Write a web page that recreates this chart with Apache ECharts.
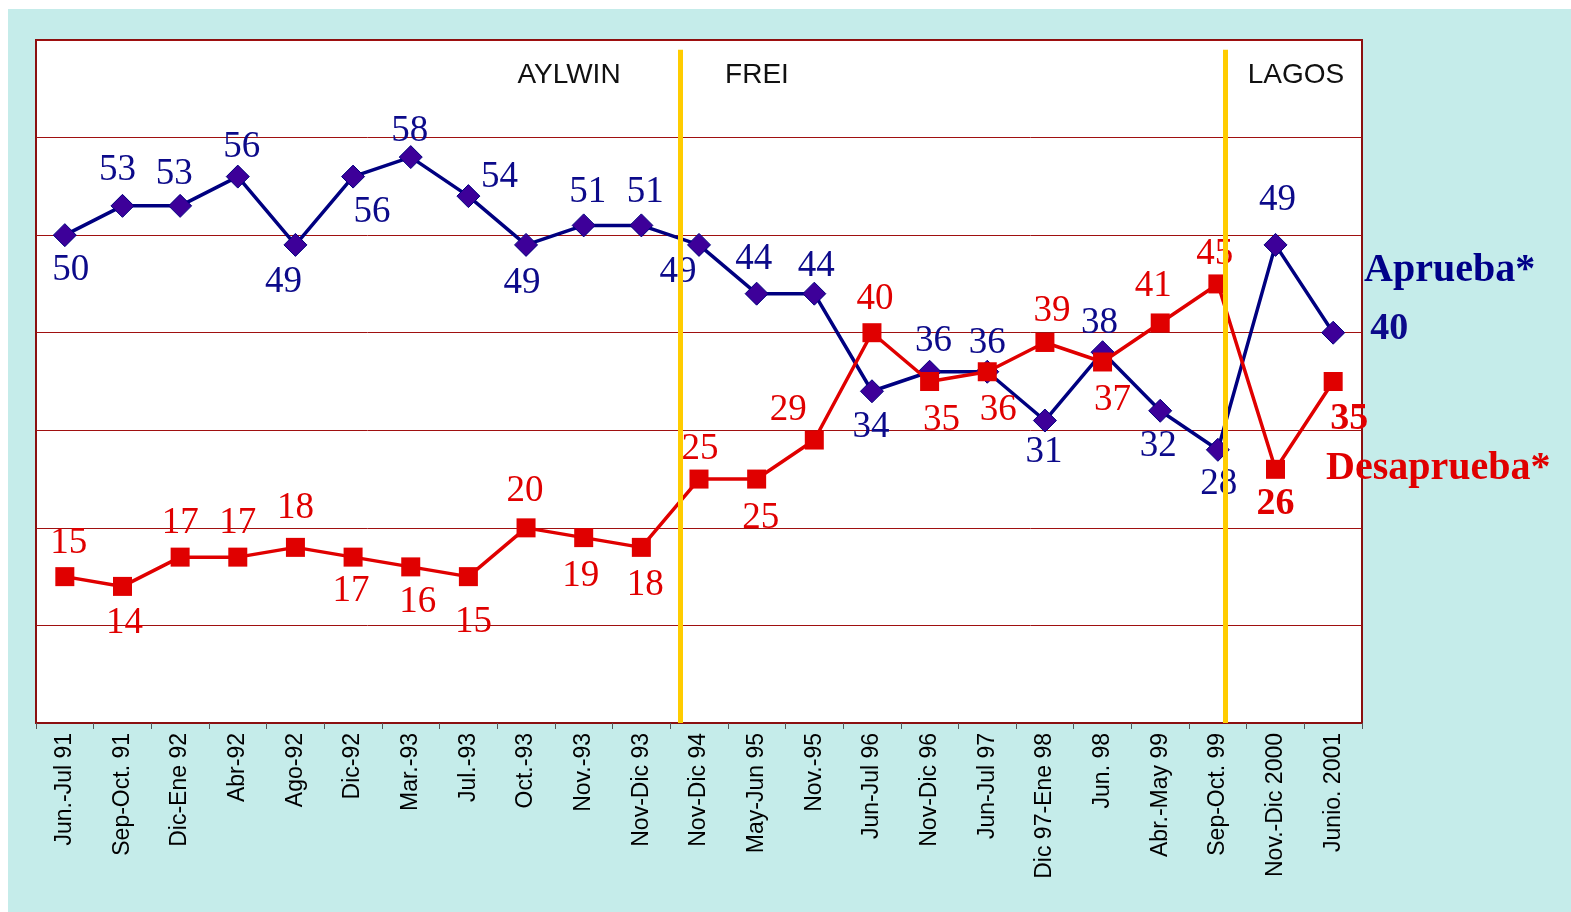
<!DOCTYPE html>
<html>
<head>
<meta charset="utf-8">
<script src="https://cdn.jsdelivr.net/npm/echarts@6/dist/echarts.min.js"></script>
<style>
  html, body { margin: 0; padding: 0; background: #ffffff; }
  #chart { position: absolute; left: 8px; top: 9px; width: 1563px; height: 903px; background: #c5ecea; }
</style>
</head>
<body>
<div id="chart"></div>
<script>
// periodos de la encuesta
const periods = ['Jun.-Jul 91', 'Sep-Oct. 91', 'Dic-Ene 92', 'Abr-92', 'Ago-92', 'Dic-92', 'Mar.-93', 'Jul.-93',
  'Oct.-93', 'Nov.-93', 'Nov-Dic 93', 'Nov-Dic 94', 'May-Jun 95', 'Nov.-95', 'Jun-Jul 96', 'Nov-Dic 96',
  'Jun-Jul 97', 'Dic 97-Ene 98', 'Jun. 98', 'Abr.-May 99', 'Sep-Oct. 99', 'Nov.-Dic 2000', 'Junio. 2001']

const aprueba = [50, 53, 53, 56, 49, 56, 58, 54, 49, 51, 51, 49, 44, 44, 34, 36, 36, 31, 38, 32, 28, 49, 40]
const desaprueba = [15, 14, 17, 17, 18, 17, 16, 15, 20, 19, 18, 25, 25, 29, 40, 35, 36, 39, 37, 41, 45, 26, 35]

// cambios de gobierno (en indice de periodo)
const termBoundaries = [10.67, 20.12]

// posicion de las etiquetas: [posicion, dx, dy]
const aprLabelPos = [
  ['bottom', 6, 0], ['top', -5, 0], ['top', -6, 4], ['top', 4, 6], ['bottom', -12, 2], ['bottom', 19, 0],
  ['top', -1, 10], ['top', 31, 17], ['bottom', -4, 3], ['top', 4, 2], ['top', 4, 2], ['bottom', -21, -8],
  ['top', -3, 1], ['top', 2, 8], ['bottom', -1, 1], ['top', 4, 5], ['top', 0, 7], ['bottom', -1, -4],
  ['top', -3, 7], ['bottom', -2, 0], ['bottom', 1, -1], ['top', 2, -9], ['right', 20, -4]
]
const desLabelPos = [
  ['top', 4, 0], ['bottom', 2, 4], ['top', 0, -1], ['top', 0, -1], ['top', 0, -6], ['bottom', -2, 1],
  ['bottom', 7, 2], ['bottom', 5, 13], ['top', -1, -4], ['bottom', -3, 6], ['bottom', 4, 5], ['top', 1, 3],
  ['bottom', 4, 6], ['top', -26, 3], ['top', 3, 0], ['bottom', 12, 6], ['bottom', 11, 6], ['top', 7, 2],
  ['bottom', 10, 5], ['top', -7, -4], ['top', -3, 3], ['bottom', 0, 1], ['bottom', 16, 4]
]

const serif = "'Liberation Serif', 'Times New Roman', serif"
const sans = "'Liberation Sans', Arial, sans-serif"

function buildData (values, pos, color) {
  return values.map((v, i) => {
    const last = i === values.length - 1 || (color === '#e00000' && i === values.length - 2)
    return {
      value: v,
      label: {
        show: true,
        position: pos[i][0],
        distance: 5,
        offset: [pos[i][1], pos[i][2]],
        color: color,
        fontFamily: serif,
        fontSize: last ? 38 : 37,
        fontWeight: last ? 'bold' : 'normal'
      }
    }
  })
}

const myChart = echarts.init(document.getElementById('chart'))

const option = {
  animation: false,
  grid: {
    left: 28,
    top: 31,
    width: 1326,
    height: 683,
    show: true,
    backgroundColor: '#ffffff',
    borderColor: '#8b1010',
    borderWidth: 2
  },
  xAxis: [
    {
      type: 'category',
      data: periods,
      boundaryGap: true,
      axisLine: { show: true, lineStyle: { color: '#8b1010', width: 2 } },
      axisTick: { show: true, length: 6, lineStyle: { color: '#555555' } },
      axisLabel: {
        interval: 0,
        rotate: 90,
        margin: 10,
        color: '#000000',
        fontFamily: sans,
        fontSize: 23
      },
      splitLine: { show: false }
    },
    {
      type: 'value',
      min: -0.5,
      max: 22.5,
      show: false
    }
  ],
  yAxis: {
    type: 'value',
    min: 0,
    max: 70,
    interval: 10,
    axisLine: { show: false },
    axisTick: { show: false },
    axisLabel: { show: false },
    splitLine: { show: true, lineStyle: { color: '#a01010', width: 1 } }
  },
  series: [
    {
      name: 'Aprueba',
      type: 'line',
      data: buildData(aprueba, aprLabelPos, '#0c0a8a'),
      symbol: 'diamond',
      symbolSize: 23,
      lineStyle: { color: '#000080', width: 3.5 },
      itemStyle: { color: '#3d0099', borderColor: '#000080', borderWidth: 1 },
      z: 3
    },
    {
      name: 'Desaprueba',
      type: 'line',
      data: buildData(desaprueba, desLabelPos, '#e00000'),
      symbol: 'rect',
      symbolSize: 19,
      lineStyle: { color: '#e00000', width: 3.5 },
      itemStyle: { color: '#e00000' },
      z: 4
    },
    {
      name: 'gobiernos',
      type: 'line',
      xAxisIndex: 1,
      data: [],
      z: 5,
      markLine: {
        silent: true,
        symbol: 'none',
        label: { show: false },
        lineStyle: { color: '#ffcc00', width: 5, type: 'solid' },
        data: termBoundaries.map(b => [{ coord: [b, 0] }, { coord: [b, 69] }])
      }
    }
  ],
  graphic: [
    { type: 'text', x: 561, y: 66, style: { text: 'AYLWIN', font: '28px ' + sans, fill: '#111111', textAlign: 'center', textVerticalAlign: 'middle' } },
    { type: 'text', x: 749, y: 66, style: { text: 'FREI', font: '28px ' + sans, fill: '#111111', textAlign: 'center', textVerticalAlign: 'middle' } },
    { type: 'text', x: 1288, y: 66, style: { text: 'LAGOS', font: '28px ' + sans, fill: '#111111', textAlign: 'center', textVerticalAlign: 'middle' } },
    { type: 'text', left: 1356, top: 242, style: { text: 'Aprueba*', font: 'bold 40px ' + serif, fill: '#000088' } },
    { type: 'text', left: 1318, top: 440, style: { text: 'Desaprueba*', font: 'bold 40px ' + serif, fill: '#e00000' } }
  ]
}

myChart.setOption(option)
</script>
</body>
</html>
